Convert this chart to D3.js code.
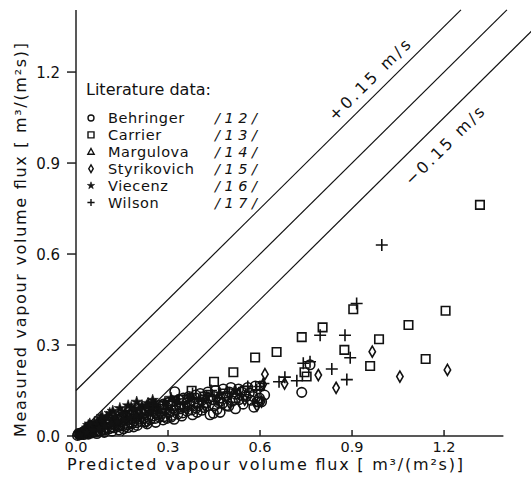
<!DOCTYPE html>
<html><head><meta charset="utf-8">
<script src="https://cdn.jsdelivr.net/npm/d3@7"></script>
<style>body{margin:0;background:#fff}svg{display:block}text{font-family:"DejaVu Sans",sans-serif;fill:#111}</style>
</head><body>
<script>
const xTicks = [0.0, 0.3, 0.6, 0.9, 1.2];
const yTicks = [0.0, 0.3, 0.6, 0.9, 1.2];
const tickLabels = ["0.0", "0.3", "0.6", "0.9", "1.2"];
const offsets = [0.15, 0, -0.15];
const offsetLabels = ["+0.15  m/s", "", "\u22120.15  m/s"];
const seriesNames = ["Behringer", "Carrier", "Margulova", "Styrikovich", "Viecenz", "Wilson"];
const seriesRefs = ["/12/", "/13/", "/14/", "/15/", "/16/", "/17/"];
const seriesShapes = ["circle", "square", "triangle", "diamond", "star", "plus"];

const behringer = [[0.005,0.002],[0.012,0.004],[0.018,0.006],[0.025,0.005],[0.03,0.009],[0.038,0.008],[0.045,0.012],[0.05,0.01],[0.058,0.015],[0.065,0.013],[0.072,0.018],[0.08,0.016],[0.088,0.022],[0.095,0.02],[0.1,0.026],[0.108,0.024],[0.115,0.03],[0.122,0.027],[0.13,0.034],[0.138,0.031],[0.145,0.038],[0.152,0.033],[0.16,0.042],[0.168,0.037],[0.175,0.046],[0.182,0.04],[0.19,0.05],[0.198,0.044],[0.205,0.055],[0.212,0.048],[0.22,0.058],[0.228,0.047],[0.235,0.062],[0.242,0.054],[0.25,0.066],[0.258,0.058],[0.265,0.07],[0.272,0.062],[0.28,0.074],[0.288,0.064],[0.296,0.058],[0.305,0.078],[0.312,0.068],[0.322,0.146],[0.325,0.085],[0.332,0.072],[0.34,0.09],[0.348,0.076],[0.355,0.098],[0.362,0.082],[0.37,0.104],[0.378,0.086],[0.385,0.112],[0.392,0.092],[0.4,0.1],[0.41,0.118],[0.418,0.094],[0.425,0.108],[0.437,0.07],[0.445,0.12],[0.452,0.1],[0.46,0.088],[0.47,0.125],[0.478,0.108],[0.49,0.132],[0.498,0.098],[0.51,0.115],[0.52,0.138],[0.532,0.12],[0.545,0.105],[0.555,0.13],[0.565,0.142],[0.578,0.13],[0.59,0.113],[0.598,0.125],[0.605,0.113],[0.615,0.135],[0.736,0.144],[0.763,0.235],
 [0.008,0.008],[0.015,0.01],[0.022,0.012],[0.028,0.016],[0.035,0.02],[0.042,0.018],[0.055,0.025],[0.062,0.028],[0.075,0.03],[0.085,0.035],[0.098,0.04],[0.11,0.045],[0.125,0.05],[0.135,0.055],[0.15,0.06],[0.165,0.062],[0.18,0.068],[0.195,0.075],[0.21,0.078],[0.225,0.085],[0.24,0.09],[0.255,0.095],[0.27,0.1],[0.285,0.105],[0.3,0.11],[0.318,0.115],[0.335,0.12],[0.35,0.125],[0.368,0.13],[0.39,0.135],[0.405,0.14],[0.43,0.145],[0.455,0.15],[0.48,0.155],[0.505,0.16],[0.53,0.155],[0.56,0.16],[0.585,0.165],[0.14,0.02],[0.17,0.028],[0.2,0.035],[0.26,0.045],[0.284,0.053],[0.32,0.055],[0.38,0.07],[0.448,0.075],[0.47,0.078],[0.52,0.09],[0.58,0.095],[0.594,0.113],
 [0.04,0.006],[0.068,0.008],[0.092,0.012],[0.118,0.016],[0.155,0.024],[0.188,0.03],[0.232,0.04],[0.31,0.062],[0.345,0.066],[0.36,0.108],[0.395,0.078],[0.41,0.085],[0.43,0.125],[0.465,0.11],[0.49,0.1],[0.5,0.145],[0.54,0.145],[0.57,0.118]];
const carrier = [[1.317,0.762],[0.904,0.418],[1.205,0.413],[1.084,0.366],[0.804,0.358],[0.736,0.326],[0.988,0.319],[0.654,0.277],[0.584,0.259],[0.875,0.284],[1.14,0.254],[0.959,0.231],[0.752,0.196],[0.513,0.21],[0.45,0.179],[0.377,0.149],[0.745,0.21],[0.3,0.1],[0.35,0.12],[0.42,0.13],[0.48,0.14],[0.55,0.15],[0.28,0.09],[0.6,0.165],[0.2,0.07],[0.25,0.08],[0.4,0.11],[0.52,0.125]];
const margulova = [[0.02,0.01],[0.04,0.02],[0.06,0.03],[0.09,0.04],[0.12,0.05],[0.14,0.06],[0.17,0.065],[0.22,0.08],[0.26,0.085],[0.32,0.1],[0.03,0.025],[0.07,0.045],[0.1,0.055],[0.18,0.075],[0.24,0.095],[0.05,0.016],[0.08,0.025],[0.11,0.035],[0.13,0.042],[0.16,0.05],[0.2,0.062]];
const styrikovich = [[0.966,0.278],[1.211,0.218],[0.79,0.201],[1.056,0.196],[0.848,0.159],[0.68,0.173],[0.616,0.204],[0.605,0.113],[0.61,0.17],[0.23,0.047],[0.3,0.075],[0.36,0.09],[0.42,0.1],[0.5,0.11],[0.55,0.12],[0.59,0.1],[0.2,0.06],[0.15,0.04],[0.27,0.08],[0.33,0.1],[0.46,0.12],[0.53,0.14]];
const viecenz = [[0.01,0.006],[0.03,0.018],[0.05,0.028],[0.07,0.038],[0.09,0.048],[0.11,0.075],[0.13,0.065],[0.143,0.091],[0.16,0.08],[0.18,0.095],[0.198,0.112],[0.215,0.1],[0.235,0.108],[0.26,0.105],[0.29,0.112],[0.33,0.118],[0.37,0.125],[0.426,0.13],[0.47,0.14],[0.52,0.15],[0.02,0.015],[0.04,0.035],[0.06,0.045],[0.08,0.058],[0.1,0.062],[0.12,0.082],[0.17,0.1],[0.19,0.088],[0.25,0.118],[0.31,0.125],
 [0.015,0.004],[0.035,0.012],[0.055,0.02],[0.075,0.026],[0.095,0.034],[0.115,0.04],[0.135,0.048],[0.155,0.055],[0.175,0.06],[0.195,0.068],[0.215,0.072],[0.245,0.078],[0.275,0.088],[0.045,0.04],[0.085,0.065],[0.15,0.075],[0.205,0.09],[0.23,0.1]];
const wilson = [[0.997,0.63],[0.915,0.437],[0.796,0.332],[0.877,0.332],[0.894,0.258],[0.741,0.24],[0.834,0.221],[0.883,0.186],[0.72,0.182],[0.662,0.179],[0.681,0.194],[0.611,0.173],[0.589,0.152],[0.56,0.163],[0.5,0.14],[0.45,0.13],[0.4,0.12],[0.35,0.11],[0.3,0.1],[0.763,0.245],[0.6,0.163],[0.44,0.15],[0.38,0.14],[0.25,0.09]];
const seriesData = [behringer, carrier, margulova, styrikovich, viecenz, wilson];

const W = 531, H = 483;
const svg = d3.select("body").append("svg").attr("width", W).attr("height", H);
const x = d3.scaleLinear().domain([0, 1.4]).range([76, 505.4]);
const y = d3.scaleLinear().domain([0, 1.4]).range([436, 11.4]);

function markerPath(shape, s) {
  const h = s / 2;
  switch (shape) {
    case "circle": return d3.symbol(d3.symbolCircle, Math.PI * h * h)();
    case "square": return `M${-h},${-h}H${h}V${h}H${-h}Z`;
    case "triangle": return `M0,${-h*1.1}L${h*1.05},${h*0.8}L${-h*1.05},${h*0.8}Z`;
    case "diamond": return `M0,${-h*1.3}L${h*0.75},0L0,${h*1.3}L${-h*0.75},0Z`;
    case "star": return d3.symbol(d3.symbolStar, s * s * 0.45)();
    case "plus": return `M${-h*1.2},0H${h*1.2}M0,${-h*1.2}V${h*1.2}`;
  }
}
function drawMarker(g, shape, s, sw) {
  const p = g.append("path").attr("d", markerPath(shape, s)).attr("stroke", "#111").attr("stroke-width", sw);
  if (shape === "star") p.attr("fill", "#111").attr("stroke-width", 0.6);
  else p.attr("fill", "none");
}

// axes
const ax = svg.append("g").attr("stroke", "#222").attr("stroke-width", 1.5);
ax.append("line").attr("x1", x(0)).attr("x2", x(1.4) - 2).attr("y1", y(0)).attr("y2", y(0));
ax.append("line").attr("x1", x(0)).attr("x2", x(0)).attr("y1", y(0)).attr("y2", y(1.405));
yTicks.forEach(t => ax.append("line").attr("x1", x(0) - 9).attr("x2", x(0)).attr("y1", y(t)).attr("y2", y(t)));
xTicks.forEach(t => ax.append("line").attr("x1", x(t)).attr("x2", x(t)).attr("y1", y(0)).attr("y2", y(0) - 6));
yTicks.forEach((t, i) => svg.append("text").attr("x", x(0) - 16).attr("y", y(t) + 5.5)
  .attr("text-anchor", "end").attr("font-size", 15).text(tickLabels[i]));
xTicks.forEach((t, i) => svg.append("text").attr("x", x(t)).attr("y", 452)
  .attr("text-anchor", "middle").attr("font-size", 14.5).text(tickLabels[i]));
svg.append("text").attr("x", 67).attr("y", 470).attr("font-size", 16)
  .attr("textLength", 396).attr("lengthAdjust", "spacing")
  .text("Predicted vapour volume flux [ m\u00b3/(m\u00b2s)]");
svg.append("text").attr("transform", "translate(26,437) rotate(-90)").attr("font-size", 16)
  .attr("textLength", 394).attr("lengthAdjust", "spacing")
  .text("Measured vapour volume flux [ m\u00b3/(m\u00b2s)]");

// reference lines
const ang = Math.atan2(y(1) - y(0), x(1) - x(0)) * 180 / Math.PI;
offsets.forEach((o, i) => {
  const x0 = Math.max(0, -o), x1 = 1.405 - o;
  svg.append("line").attr("x1", x(x0)).attr("y1", y(x0 + o)).attr("x2", x(x1)).attr("y2", y(x1 + o))
    .attr("stroke", "#111").attr("stroke-width", 1.2);
});
const lab1x = 0.99, lab2x = 1.155;
svg.append("text").attr("transform", `translate(${x(lab1x)},${y(lab1x + offsets[0])}) rotate(${ang})`)
  .attr("y", -9).attr("text-anchor", "middle").attr("font-size", 16)
  .attr("textLength", 108).attr("lengthAdjust", "spacing").text(offsetLabels[0]);
svg.append("text").attr("transform", `translate(${x(lab2x)},${y(lab2x + offsets[2])}) rotate(${ang})`)
  .attr("y", 26).attr("text-anchor", "middle").attr("font-size", 16)
  .attr("textLength", 104).attr("lengthAdjust", "spacing").text(offsetLabels[2]);

// data
seriesData.forEach((data, si) => {
  data.forEach(d => {
    const g = svg.append("g").attr("transform", `translate(${x(d[0])},${y(d[1])})`);
    const sh = seriesShapes[si];
    drawMarker(g, sh, sh === "circle" ? 9.5 : sh === "plus" ? 10 : sh === "star" ? 9.5 : 8.5, 1.6);
  });
});

// legend
svg.append("text").attr("x", 86).attr("y", 95).attr("font-size", 16).text("Literature data:");
seriesNames.forEach((n, i) => {
  const yy = 123 + i * 16.9;
  const g = svg.append("g").attr("transform", `translate(91,${yy - 5})`);
  drawMarker(g, seriesShapes[i], 6, 1.4);
  svg.append("text").attr("x", 108).attr("y", yy).attr("font-size", 14.5).attr("letter-spacing", 0.6).text(n);
  svg.append("text").attr("x", 215).attr("y", yy).attr("font-size", 14.5).attr("font-style", "italic")
    .attr("textLength", 42).attr("lengthAdjust", "spacing").text(seriesRefs[i]);
});
</script>
</body></html>
